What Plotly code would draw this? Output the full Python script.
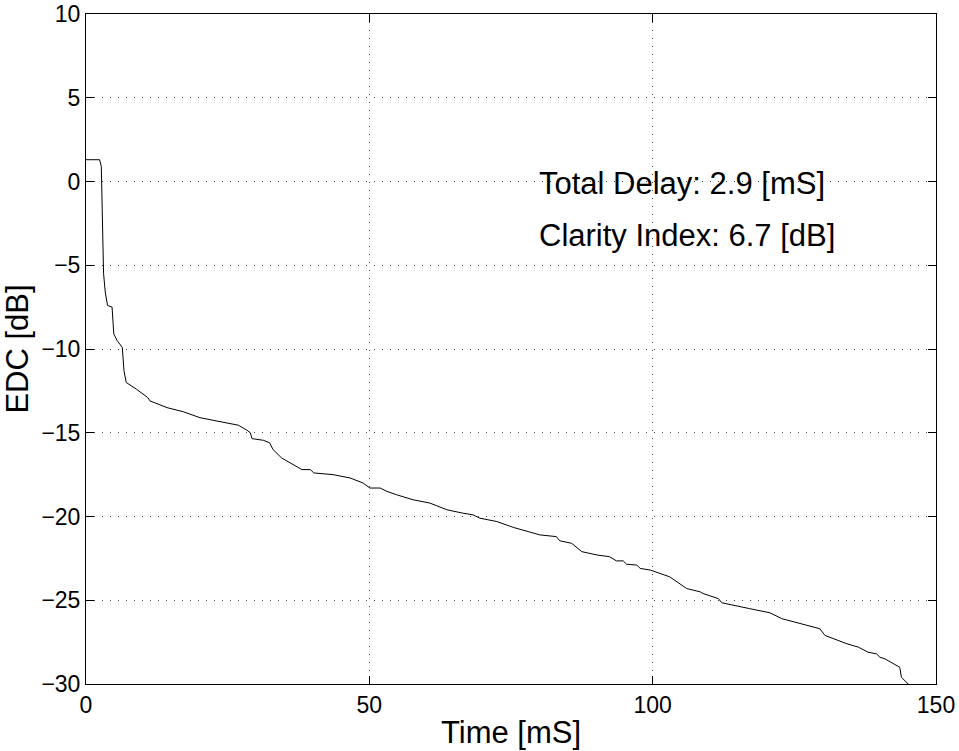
import plotly.graph_objects as go

time_ms = [0, 2.4, 2.7, 3.1, 3.4, 3.8, 4.6, 4.9, 5.5, 6.4, 6.7, 7.1, 8.9, 10.9, 11.3, 14.3, 17.2,
           20.1, 23.1, 24.8, 26.9, 28.4, 29.0, 29.3, 31.3, 32.4, 33.0, 34.5, 36.6, 38.1, 39.6,
           40.2, 43.6, 46.6, 48.9, 50.1, 51.9, 53.1, 54.8, 57.7, 60.7, 63.7, 66.5, 68.3, 69.5,
           72.5, 75.4, 78.3, 80.1, 83.0, 83.6, 85.7, 87.5, 90.2, 92.4, 93.6, 94.8, 95.4, 97.2,
           97.8, 99.6, 103.0, 106.0, 108.4, 108.9, 111.6, 112.2, 117.1, 120.7, 122.8, 126.0,
           129.5, 130.4, 134.3, 136.3, 138.0, 139.5, 140.1, 141.0, 143.6, 143.9, 145.1, 145.4]
edc_db = [1.3, 1.3, 0.9, -5.5, -6.6, -7.4, -7.5, -9.1, -9.5, -9.9, -11.3, -12.0, -12.4, -12.9, -13.1,
          -13.5, -13.75, -14.1, -14.3, -14.4, -14.55, -14.85, -15.0, -15.35, -15.45, -15.6, -16.0,
          -16.5, -16.9, -17.2, -17.2, -17.4, -17.5, -17.7, -18.0, -18.3, -18.3, -18.5, -18.7,
          -19.0, -19.2, -19.6, -19.8, -19.9, -20.1, -20.3, -20.65, -20.9, -21.1, -21.2, -21.45,
          -21.6, -22.1, -22.3, -22.4, -22.65, -22.65, -22.85, -22.9, -23.1, -23.2, -23.6, -24.3,
          -24.5, -24.6, -24.9, -25.15, -25.5, -25.75, -26.1, -26.4, -26.7, -27.1, -27.6, -27.8,
          -28.1, -28.2, -28.4, -28.5, -29.0, -29.6, -30.0, -30.1]

x_ticks = [0, 50, 100, 150]
y_ticks = [10, 5, 0, -5, -10, -15, -20, -25, -30]
y_tick_text = ["10", "5", "0", "\u22125", "\u221210", "\u221215", "\u221220", "\u221225", "\u221230"]
notes = ["Total Delay: 2.9 [mS]", "Clarity Index: 6.7 [dB]"]
note_y = [-0.1, -3.2]

font = "Liberation Sans, Arial, sans-serif"

fig = go.Figure()
fig.add_trace(go.Scatter(x=time_ms, y=edc_db, mode="lines",
                         line=dict(color="black", width=1), showlegend=False))

for txt, yy in zip(notes, note_y):
    fig.add_annotation(x=79.5, y=yy, text=txt, showarrow=False, xanchor="left",
                       yanchor="middle", font=dict(size=31, color="black", family=font))

axis_common = dict(showline=True, linecolor="black", linewidth=1, mirror="ticks",
                   ticks="inside", ticklen=8, tickcolor="black", automargin=False,
                   showgrid=True, gridcolor="#444", griddash="1px,7px", gridwidth=1,
                   zeroline=False, tickfont=dict(size=23, color="black", family=font))

fig.update_xaxes(range=[0, 150], tickvals=x_ticks,
                 title=dict(text="Time [mS]", font=dict(size=31, color="black", family=font), standoff=4),
                 **axis_common)
fig.update_yaxes(range=[-30, 10], tickvals=y_ticks, ticktext=y_tick_text,
                 title=dict(text="EDC [dB]", font=dict(size=31, color="black", family=font), standoff=4),
                 **axis_common)

fig.update_layout(width=959, height=751, plot_bgcolor="white", paper_bgcolor="white",
                  margin=dict(l=86, r=23, t=14, b=67, autoexpand=False), font=dict(family=font))

fig.write_html("out.html")
